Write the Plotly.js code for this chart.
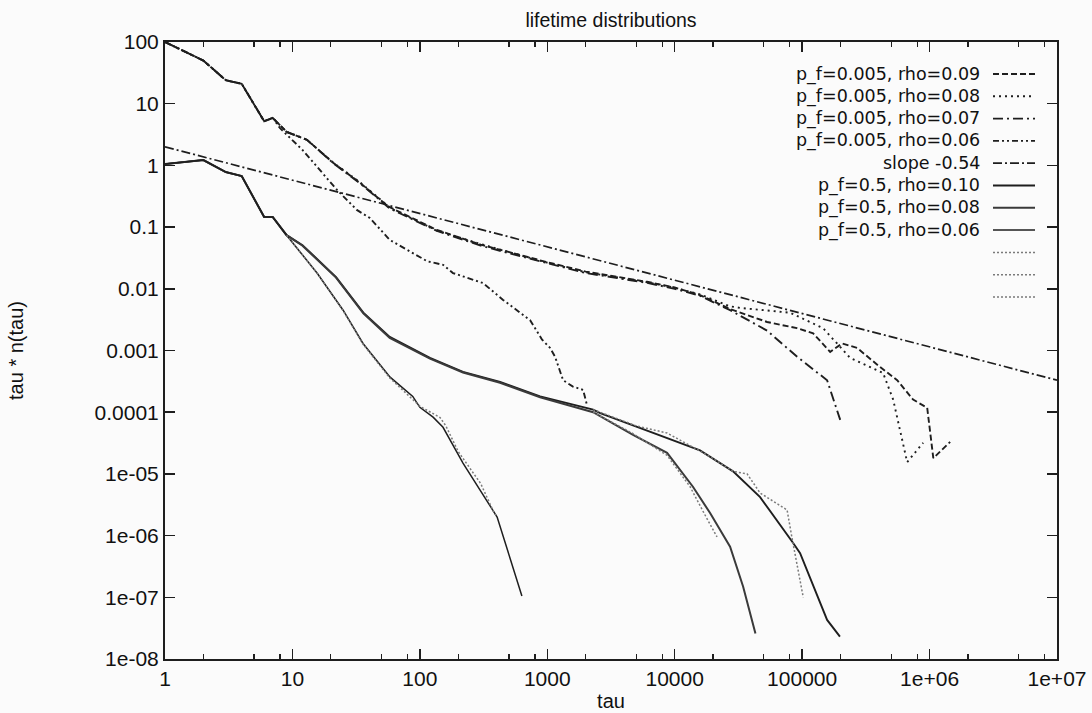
<!DOCTYPE html>
<html>
<head>
<meta charset="utf-8">
<script src="https://cdn.plot.ly/plotly-3.0.1.min.js"></script>
<style>html,body{margin:0;padding:0;background:#fbfbfb;}#chart{width:1092px;height:713px;}</style>
</head>
<body>
<div id="chart"></div>
<script>
// ---------- data ----------
const xTickVals = [1, 10, 100, 1000, 10000, 100000, 1e6, 1e7];
const xTickText = ["1", "10", "100", "1000", "10000", "100000", "1e+06", "1e+07"];
const yTickVals = [1e-8, 1e-7, 1e-6, 1e-5, 1e-4, 1e-3, 1e-2, 1e-1, 1, 10, 100];
const yTickText = ["1e-08", "1e-07", "1e-06", "1e-05", "0.0001", "0.001", "0.01", "0.1", "1", "10", "100"];

// p_f = 0.005 series
const tauA09 = [1, 2, 3, 4, 6, 7, 9, 13, 21, 34, 49, 58, 136, 300, 1000, 2000, 6070, 10000, 15800, 27200, 53100, 91000, 122000, 166000, 206000, 270000, 409000, 557000, 743000, 958000, 1070000, 1450000];
const valA09 = [100, 50, 24, 21, 5.2, 5.9, 3.5, 2.6, 1.09, 0.52, 0.275, 0.21, 0.09, 0.052, 0.027, 0.019, 0.013, 0.0105, 0.0079, 0.0047, 0.0029, 0.0023, 0.0019, 0.00095, 0.0013, 0.0011, 0.00054, 0.00033, 0.00016, 0.000118, 0.000018, 0.000033];

const tauA08 = [1, 2, 3, 4, 6, 7, 9, 13, 21, 34, 49, 58, 136, 300, 1000, 2000, 6070, 10000, 15800, 27200, 32600, 80500, 146000, 238000, 432000, 518000, 667000, 891000];
const valA08 = [100, 50, 24, 21, 5.2, 5.9, 3.5, 2.6, 1.1, 0.53, 0.28, 0.205, 0.088, 0.053, 0.0265, 0.0185, 0.0128, 0.0104, 0.0081, 0.0052, 0.0049, 0.0041, 0.0023, 0.00076, 0.00043, 0.00016, 0.0000155, 0.000032];

const tauA07 = [1, 2, 3, 4, 6, 7, 9, 13, 21, 34, 49, 58, 136, 300, 1000, 2000, 6070, 10000, 15800, 27200, 53100, 91400, 157000, 199000];
const valA07 = [100, 50, 24, 21, 5.2, 5.9, 3.5, 2.6, 1.08, 0.51, 0.27, 0.2, 0.087, 0.05, 0.026, 0.018, 0.0125, 0.01, 0.0077, 0.0045, 0.0021, 0.00079, 0.00033, 0.000075];

const tauA06 = [1, 2, 3, 4, 6, 7, 8, 12, 22.4, 32, 40.6, 58, 114, 152, 182, 313, 450, 733, 910, 1052, 1151, 1331, 1590, 1910, 2050];
const valA06 = [100, 50, 24, 21, 5.2, 5.9, 4.0, 1.78, 0.4, 0.19, 0.14, 0.062, 0.028, 0.0245, 0.018, 0.0124, 0.0066, 0.0031, 0.0015, 0.0011, 0.00079, 0.00033, 0.00026, 0.00023, 0.00013];

// fitted power law, slope -0.54 (end points)
const tauSlope = [1, 1e7];
const valSlope = [2.0, 0.00033];

// p_f = 0.5 series
const tauB10 = [1, 2, 3, 4, 6, 7, 9, 12, 22, 36, 58, 120, 218, 426, 878, 2290, 2600, 6410, 15800, 28700, 46800, 85000, 96400, 157000, 198000];
const valB10 = [1.05, 1.22, 0.78, 0.67, 0.146, 0.146, 0.074, 0.051, 0.0155, 0.0041, 0.00166, 0.00076, 0.00045, 0.00031, 0.00018, 0.00011, 0.000097, 0.000048, 0.000024, 0.000011, 0.0000042, 0.00000076, 0.00000052, 0.000000043, 0.000000023];

const tauB08 = [1, 2, 3, 4, 6, 7, 9, 12, 22, 36, 58, 120, 218, 426, 878, 2290, 4710, 8710, 13900, 19000, 27200, 34400, 43000];
const valB08 = [1.05, 1.22, 0.78, 0.67, 0.146, 0.146, 0.074, 0.05, 0.0152, 0.004, 0.0016, 0.00074, 0.00044, 0.0003, 0.000175, 0.0001, 0.000043, 0.000022, 0.0000062, 0.0000023, 0.00000066, 0.00000015, 0.000000026];

const tauB06 = [1, 2, 3, 4, 6, 7, 9, 15.6, 25, 35.8, 58.4, 88, 100, 127, 152, 218, 404, 632];
const valB06 = [1.05, 1.22, 0.78, 0.67, 0.146, 0.146, 0.074, 0.018, 0.0045, 0.0013, 0.00037, 0.00018, 0.00012, 0.000083, 0.000057, 0.000015, 0.000002, 0.000000105];

// unlabeled grey companions
const tauG1 = [9, 15.6, 25, 36, 58, 100, 144, 160, 200, 300, 380, 404];
const valG1 = [0.074, 0.018, 0.0044, 0.00125, 0.00036, 0.000125, 0.000082, 0.00006, 0.000023, 0.000007, 0.0000024, 0.000002];
const tauG2 = [2290, 4710, 8710, 13200, 17000, 21500];
const valG2 = [0.0001, 0.000045, 0.00002, 0.0000062, 0.0000023, 0.00000095];
const tauG3 = [2290, 5000, 8710, 19000, 28700, 37000, 46800, 76200, 83000, 102000];
const valG3 = [0.00011, 0.00006, 0.000046, 0.000019, 0.000011, 0.00001, 0.0000049, 0.0000026, 0.00000095, 0.0000001];

// legend labels (text in the reference, last three are blank)
const legendLabels = ["p_f=0.005, rho=0.09", "p_f=0.005, rho=0.08", "p_f=0.005, rho=0.07", "p_f=0.005, rho=0.06",
  "slope -0.54", "p_f=0.5, rho=0.10", "p_f=0.5, rho=0.08", "p_f=0.5, rho=0.06", "", "", ""];

// ---------- styles ----------
const ink = "#1e1e1e";
const styles = [
  {color: ink, width: 1.9, dash: "6px,3px"},
  {color: ink, width: 1.9, dash: "2px,4px"},
  {color: ink, width: 1.9, dash: "10px,4px,2px,4px"},
  {color: ink, width: 1.9, dash: "6px,3px,2px,3px,2px,3px"},
  {color: ink, width: 1.7, dash: "9px,3px,2px,3px"},
  {color: ink, width: 1.9, dash: "solid"},
  {color: "#3a3a3a", width: 2.0, dash: "solid"},
  {color: ink, width: 1.5, dash: "solid"},
  {color: "#7a7a7a", width: 1.5, dash: "2px,2px"},
  {color: "#7a7a7a", width: 1.5, dash: "2px,2px"},
  {color: "#7a7a7a", width: 1.5, dash: "2px,2px"}
];
const seriesX = [tauA09, tauA08, tauA07, tauA06, tauSlope, tauB10, tauB08, tauB06, tauG1, tauG2, tauG3];
const seriesY = [valA09, valA08, valA07, valA06, valSlope, valB10, valB08, valB06, valG1, valG2, valG3];

const traces = seriesX.map((xs, i) => ({
  type: "scatter", mode: "lines", x: xs, y: seriesY[i],
  name: legendLabels[i], line: Object.assign({}, styles[i]), showlegend: false, hoverinfo: "skip"
}));

// ---------- custom gnuplot-like legend (text right, sample after) ----------
const font = "Liberation Sans, Arial, Helvetica, sans-serif";
const legendFont = "DejaVu Sans, Liberation Sans, sans-serif";
const L = 165, R = 1057, T = 42, B = 659;
const px2x = p => (p - L) / (R - L);
const px2y = p => (B - p) / (B - T);
const annotations = [];
const shapes = [];
legendLabels.forEach((lab, i) => {
  const yy = px2y(74 + 22.3 * i);
  if (lab) annotations.push({xref: "paper", yref: "paper", x: px2x(981), y: yy, xanchor: "right", yanchor: "middle",
    text: lab, showarrow: false, borderpad: 0, font: {family: legendFont, size: 17.5, color: "#111"}});
  shapes.push({type: "line", xref: "paper", yref: "paper", x0: px2x(993), x1: px2x(1035), y0: yy, y1: yy,
    line: Object.assign({}, styles[i])});
});

const minorX = [];
for (let d = 0; d < 7; d++) [2, 5, 8].forEach(m => minorX.push(m * Math.pow(10, d)));

const layout = {
  width: 1092, height: 713,
  margin: {l: L, r: 1092 - R, t: T, b: 713 - B},
  paper_bgcolor: "#fbfbfb", plot_bgcolor: "#fbfbfb",
  showlegend: false,
  title: {text: "lifetime distributions", font: {family: font, size: 19.5, color: "#111"},
    x: 0.5, xref: "paper", y: 1 - 20 / 713, yref: "container", yanchor: "middle"},
  xaxis: {type: "log", range: [0, 7], tickvals: xTickVals, ticktext: xTickText,
    ticks: "inside", ticklen: 10, tickwidth: 1.5, tickcolor: ink,
    showline: true, linewidth: 2, linecolor: ink, mirror: "ticks",
    showgrid: false, zeroline: false,
    minor: {tickvals: minorX, ticks: "inside", ticklen: 5, tickwidth: 1.3, tickcolor: ink, showgrid: false},
    tickfont: {family: font, size: 21, color: "#111"},
    title: {text: "tau", font: {family: font, size: 20, color: "#111"}, standoff: 5}},
  yaxis: {type: "log", range: [-8, 2], tickvals: yTickVals, ticktext: yTickText,
    ticks: "inside", ticklen: 10, tickwidth: 1.5, tickcolor: ink,
    showline: true, linewidth: 2, linecolor: ink, mirror: "ticks",
    showgrid: false, zeroline: false,
    tickfont: {family: font, size: 21, color: "#111"},
    title: {text: "tau * n(tau)", font: {family: font, size: 20, color: "#111"}, standoff: 66}},
  annotations: annotations,
  shapes: shapes
};

Plotly.newPlot("chart", traces, layout, {displayModeBar: false, staticPlot: true});
</script>
</body>
</html>
